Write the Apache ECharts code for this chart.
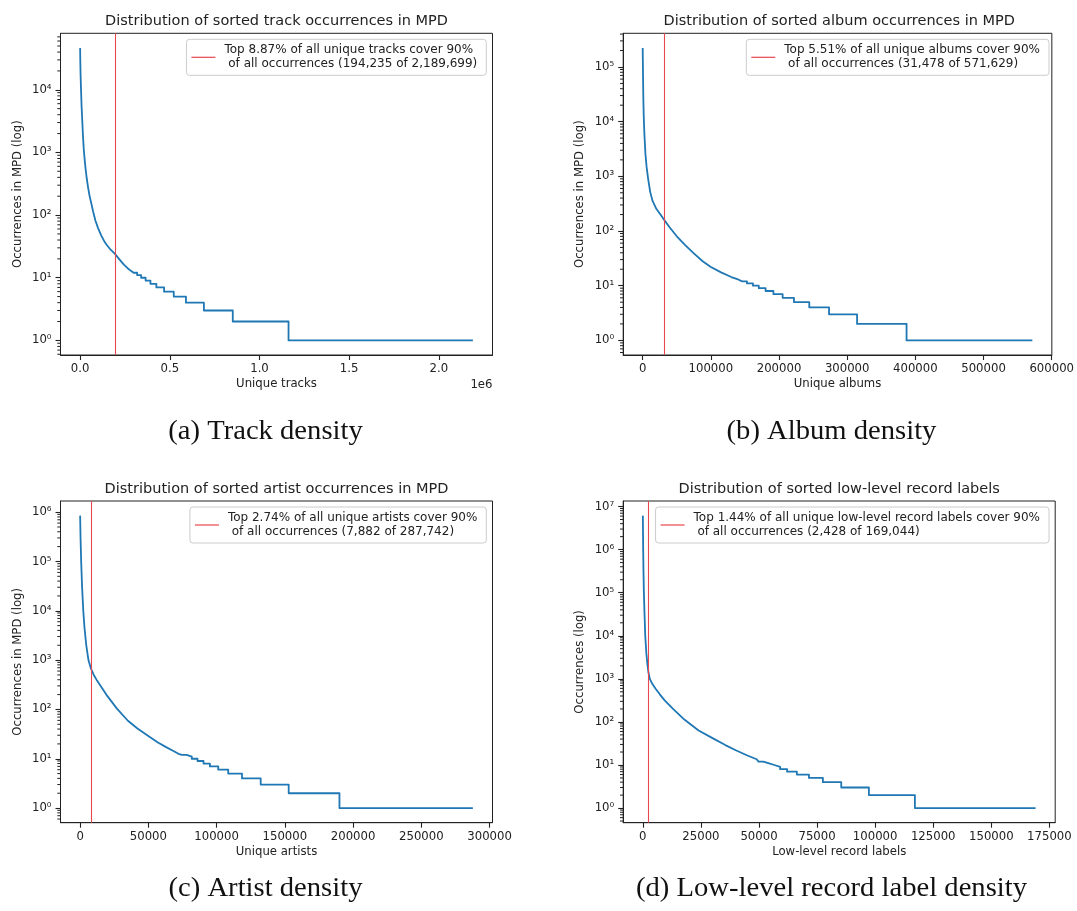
<!DOCTYPE html>
<html><head><meta charset="utf-8">
<script src="https://cdn.jsdelivr.net/npm/echarts@6/dist/echarts.min.js"></script>
<style>html,body{margin:0;padding:0;background:#fff}#c{width:1077px;height:911px}</style>
</head><body><div id="c"></div>
<script>
// ---------------- DATA ----------------
// (a) tracks: smooth head (rank, occurrences) + integer-level plateaus of the tail
const trackRank  = [0, 1000, 2500, 5000, 8000, 11700, 16000, 20000, 25000, 30000, 37000, 45000, 53000, 62000, 72000, 85000, 100000, 118000, 135000, 150000, 170000, 194235, 220000, 245000, 265000, 281000];
const trackCount = [46574, 28000, 17000, 10000, 5500, 3300, 1800, 1150, 780, 560, 380, 270, 200, 155, 115, 82, 62, 47, 38, 33, 28, 24, 19.5, 16, 14.2, 13];
const trackStepStart = [298000, 318000, 340000, 365000, 392000, 425000, 468000, 522000, 590000, 690000, 851000, 1162000];
const trackStepLevel = [12, 11, 10, 9, 8, 7, 6, 5, 4, 3, 2, 1];
const trackTotal = 2189699;
const trackCutoff = 194235;
const trackXTicks = [0, 500000, 1000000, 1500000, 2000000];
const trackYExp = [0, 1, 2, 3, 4];

// (b) albums
const albumRank  = [0, 200, 500, 1000, 1500, 2500, 4000, 5700, 8000, 11000, 14500, 20000, 26000, 31478, 40000, 50000, 62000, 75000, 88000, 100000, 115000, 130000, 140000];
const albumCount = [223000, 140000, 70000, 25000, 13000, 6000, 2600, 1500, 900, 520, 355, 255, 200, 160, 115, 80, 56, 39, 28, 22, 17.5, 14.4, 13];
const albumStepStart = [146000, 153000, 161800, 170300, 180300, 191800, 205300, 221900, 244400, 273400, 314500, 387100];
const albumStepLevel = [12, 11, 10, 9, 8, 7, 6, 5, 4, 3, 2, 1];
const albumTotal = 571629;
const albumCutoff = 31478;
const albumXTicks = [0, 100000, 200000, 300000, 400000, 500000, 600000];
const albumYExp = [0, 1, 2, 3, 4, 5];

// (c) artists
const artistRank  = [0, 300, 760, 1400, 2300, 3200, 4500, 6100, 7882, 10000, 12500, 15400, 20000, 26800, 35000, 42000, 50500, 57000, 63000, 68000, 72000];
const artistCount = [850000, 300000, 100000, 32000, 10000, 4500, 2000, 1000, 676, 500, 380, 288, 186, 105, 59, 41, 28.2, 21.4, 17.2, 14.5, 12.6];
const artistStepStart = [74600, 78000, 81800, 86000, 90400, 95100, 101200, 108500, 118600, 132300, 152800, 190000];
const artistStepLevel = [12, 11, 10, 9, 8, 7, 6, 5, 4, 3, 2, 1];
const artistTotal = 287742;
const artistCutoff = 7882;
const artistXTicks = [0, 50000, 100000, 150000, 200000, 250000, 300000];
const artistYExp = [0, 1, 2, 3, 4, 5, 6];

// (d) low-level record labels
const labelRank  = [0, 60, 150, 280, 450, 700, 1040, 1500, 2000, 2428, 3000, 4000, 5500, 7300, 9400, 13000, 18000, 24000, 30000, 35500, 40000, 45000, 49000];
const labelCount = [6150000, 3000000, 1000000, 300000, 100000, 35000, 10000, 4000, 2100, 1400, 1000, 776, 589, 437, 316, 200, 112, 63, 42, 29, 22, 16.6, 13.6];
const labelStepStart = [49800, 51800, 54000, 56600, 59100, 62100, 66300, 71500, 77500, 85400, 97300, 117100];
const labelStepLevel = [12, 11, 10, 9, 8, 7, 6, 5, 4, 3, 2, 1];
const labelTotal = 169044;
const labelCutoff = 2428;
const labelXTicks = [0, 25000, 50000, 75000, 100000, 125000, 150000, 175000];
const labelYExp = [0, 1, 2, 3, 4, 5, 6, 7];

const titles = [
  'Distribution of sorted track occurrences in MPD',
  'Distribution of sorted album occurrences in MPD',
  'Distribution of sorted artist occurrences in MPD',
  'Distribution of sorted low-level record labels'
];
const xNames = ['Unique tracks', 'Unique albums', 'Unique artists', 'Low-level record labels'];
const yNames = ['Occurrences in MPD (log)', 'Occurrences in MPD (log)', 'Occurrences in MPD (log)', 'Occurrences (log)'];
const legendTexts = [
  'Top 8.87% of all unique tracks cover 90%\n of all occurrences (194,235 of 2,189,699)',
  'Top 5.51% of all unique albums cover 90%\n of all occurrences (31,478 of 571,629)',
  'Top 2.74% of all unique artists cover 90%\n of all occurrences (7,882 of 287,742)',
  'Top 1.44% of all unique low-level record labels cover 90%\n of all occurrences (2,428 of 169,044)'
];
const captions = ['(a) Track density', '(b) Album density', '(c) Artist density', '(d) Low-level record label density'];

// ---------------- BUILD ----------------
const FONT = 'DejaVu Sans';
const TXT = '#222';
const BLUE = '#1f77b4';
const RED = '#e8474f';
const FS = 11.7;
const sup = ['\u2070', '\u00B9', '\u00B2', '\u00B3', '\u2074', '\u2075', '\u2076', '\u2077'];

const panels = [
  {rank: trackRank, count: trackCount, ss: trackStepStart, sl: trackStepLevel, total: trackTotal, cut: trackCutoff, xt: trackXTicks, ye: trackYExp, sci: true},
  {rank: albumRank, count: albumCount, ss: albumStepStart, sl: albumStepLevel, total: albumTotal, cut: albumCutoff, xt: albumXTicks, ye: albumYExp},
  {rank: artistRank, count: artistCount, ss: artistStepStart, sl: artistStepLevel, total: artistTotal, cut: artistCutoff, xt: artistXTicks, ye: artistYExp},
  {rank: labelRank, count: labelCount, ss: labelStepStart, sl: labelStepLevel, total: labelTotal, cut: labelCutoff, xt: labelXTicks, ye: labelYExp}
];

// layout (page pixels)
const GW = 432, GH = 321.7;
const gridPos = [
  {left: 60.5, top: 33.3},
  {left: 623.2, top: 33.3},
  {left: 60.5, top: 501},
  {left: 623.2, top: 501}
];
const capPos = [[265.5, 432], [831.5, 432], [265.5, 889], [831.5, 889]];

function buildLine(p) {
  const d = p.rank.map((r, i) => [r, p.count[i]]);
  for (let i = 0; i < p.ss.length; i++) {
    const end = i + 1 < p.ss.length ? p.ss[i + 1] : p.total;
    d.push([p.ss[i], p.sl[i]], [end, p.sl[i]]);
  }
  return d;
}

const option = {
  animation: false,
  backgroundColor: '#fff',
  textStyle: {fontFamily: FONT},
  grid: [], xAxis: [], yAxis: [], series: [], legend: [], graphic: []
};

panels.forEach((p, i) => {
  const g = gridPos[i];
  option.grid.push({left: g.left, top: g.top, width: GW, height: GH, show: true,
    borderColor: '#222', borderWidth: 1, backgroundColor: 'transparent', containLabel: false});

  const xmax = p.total, xpad = 0.05 * xmax;
  const L = Math.log10(Math.max(...p.count));
  const ymin = Math.pow(10, -0.05 * L), ymax = Math.pow(10, 1.05 * L);
  const minors = [];
  for (let e = -1; e <= 8; e++) for (let k = 2; k <= 9; k++) {
    const v = k * Math.pow(10, e);
    if (v > ymin && v < ymax) minors.push(v);
  }
  const majors = p.ye.map(e => Math.pow(10, e));

  option.xAxis.push({
    type: 'value', gridIndex: i, min: -xpad, max: xmax + xpad,
    name: xNames[i], nameLocation: 'middle', nameGap: 23,
    nameTextStyle: {fontFamily: FONT, fontSize: FS, color: TXT},
    axisLine: {show: true, onZero: false, lineStyle: {color: '#222', width: 1}},
    axisTick: {show: true, customValues: p.xt, length: 5, lineStyle: {color: '#222', width: 1.1}},
    axisLabel: {show: true, customValues: p.xt, margin: 8, fontFamily: FONT, fontSize: FS, color: TXT,
      showMinLabel: true, showMaxLabel: true,
      formatter: p.sci ? (v => (v / 1e6).toFixed(1)) : (v => String(v))},
    splitLine: {show: false}
  });

  option.yAxis.push({
    type: 'log', logBase: 10, gridIndex: i, min: ymin, max: ymax, position: 'left',
    name: yNames[i], nameLocation: 'middle', nameGap: 37,
    nameTextStyle: {fontFamily: FONT, fontSize: FS, color: TXT},
    axisLine: {show: true, onZero: false, lineStyle: {color: '#222', width: 1}},
    axisTick: {show: true, customValues: majors, length: 5, lineStyle: {color: '#222', width: 1.1}},
    axisLabel: {show: true, customValues: majors, margin: 9, fontFamily: FONT, fontSize: FS, color: TXT,
      showMinLabel: true, showMaxLabel: true,
      formatter: v => '10' + sup[Math.round(Math.log10(v))]},
    splitLine: {show: false}, minorTick: {show: false}
  });

  option.series.push({
    type: 'line', xAxisIndex: i, yAxisIndex: i, data: buildLine(p),
    showSymbol: false, symbol: 'none', silent: true, z: 3,
    lineStyle: {color: BLUE, width: 1.8, join: 'round'}, itemStyle: {color: BLUE}
  });
  option.series.push({
    type: 'line', name: legendTexts[i], xAxisIndex: i, yAxisIndex: i, data: [],
    symbol: 'none', lineStyle: {color: RED, width: 1.1}, itemStyle: {color: RED}, z: 4,
    markLine: {symbol: 'none', silent: true, animation: false, label: {show: false},
      lineStyle: {color: RED, width: 1.1, type: 'solid'}, data: [{xAxis: p.cut}]}
  });
  // minor log ticks (2..9 x 10^k), placed through the y scale on the left spine
  option.series.push({
    type: 'custom', xAxisIndex: i, yAxisIndex: i, silent: true, clip: false, z: 5,
    data: minors.map(v => [-xpad, v]),
    renderItem: (params, api) => {
      const pt = api.coord([api.value(0), api.value(1)]);
      const x0 = params.coordSys.x;
      return {type: 'line', shape: {x1: x0 - 3.2, y1: pt[1], x2: x0, y2: pt[1]},
        style: {stroke: '#222', lineWidth: 1}};
    }
  });

  option.legend.push({
    data: [legendTexts[i]], orient: 'vertical',
    right: 1077 - (g.left + GW - 6.2), top: g.top + 6,
    icon: 'rect', itemWidth: 24, itemHeight: 1.2, itemGap: 0,
    padding: [4, 9, 4, 5],
    backgroundColor: 'rgba(255,255,255,0.85)', borderColor: '#ccc', borderWidth: 1, borderRadius: 3,
    selectedMode: false,
    textStyle: {fontFamily: FONT, fontSize: 12, color: TXT, lineHeight: 14, padding: [0, 0, 0, 4]}
  });

  // title
  option.graphic.push({type: 'text', silent: true,
    x: g.left + GW / 2, y: g.top - 12,
    style: {text: titles[i], font: '14.5px "DejaVu Sans"', fill: TXT,
      align: 'center', verticalAlign: 'middle', textAlign: 'center', textVerticalAlign: 'middle'}});
  // caption
  option.graphic.push({type: 'text', silent: true,
    x: capPos[i][0], y: capPos[i][1], scaleX: 1.06,
    style: {text: captions[i], font: '27px "Liberation Serif"', fill: '#111',
      align: 'center', verticalAlign: 'middle', textAlign: 'center', textVerticalAlign: 'middle'}});
  if (p.sci) {
    option.graphic.push({type: 'text', silent: true,
      x: g.left + GW, y: g.top + GH + 30,
      style: {text: '1e6', font: FS + 'px "DejaVu Sans"', fill: TXT,
        align: 'right', verticalAlign: 'middle', textAlign: 'right', textVerticalAlign: 'middle'}});
  }
});

const chart = echarts.init(document.getElementById('c'), null, {renderer: 'canvas', width: 1077, height: 911});
chart.setOption(option);
</script>
</body></html>
